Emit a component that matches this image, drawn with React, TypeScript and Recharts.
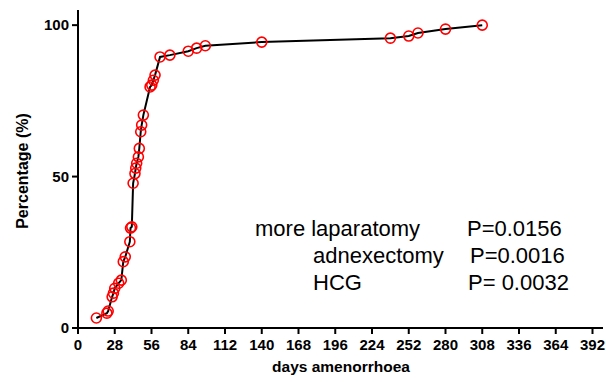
import React from "react";
import { LineChart, Line, XAxis, YAxis } from "recharts";

const days = [14, 22, 23, 26, 27, 28, 31, 33, 34.5, 36, 39.5, 40, 41, 42, 43.4, 44, 44.7, 46, 46.7, 47.8, 48.5, 49.8, 54.9, 56.2, 57.4, 58.7, 62.5, 70, 84, 90.4, 97, 140, 238, 252, 259, 280, 308];
const percentages = [3.3, 4.9, 5.6, 10.3, 11.5, 13.1, 14.8, 15.8, 21.9, 23.5, 28.5, 33.0, 33.4, 47.8, 51.0, 52.8, 54.4, 56.5, 59.3, 64.8, 67.0, 70.3, 79.6, 80.2, 81.8, 83.5, 89.5, 90.1, 91.4, 92.4, 93.2, 94.4, 95.7, 96.4, 97.4, 98.7, 100];
const xTicks = [0, 28, 56, 84, 112, 140, 168, 196, 224, 252, 280, 308, 336, 364, 392];
const yTicks = [0, 50, 100];
const annotationRows = [
  { label: "more laparatomy", p: "P=0.0156" },
  { label: "adnexectomy", p: "P=0.0016" },
  { label: "HCG", p: "P= 0.0032" },
];

const data = days.map((d, i) => ({ day: d, pct: percentages[i] }));

const font = "'Liberation Sans', Arial, sans-serif";

export default function App() {
  return (
    <div style={{ position: "absolute", left: 0, top: 0, width: 606, height: 382, background: "#fff", fontFamily: font }}>
      <LineChart width={606} height={382} data={data} margin={{ top: 10, right: 3, bottom: 0, left: 0 }}>
        <XAxis
          type="number"
          dataKey="day"
          domain={[0, 400]}
          ticks={xTicks}
          interval={0}
          height={54}
          tickSize={6}
          stroke="#000"
          axisLine={{ stroke: "#000", strokeWidth: 2 }}
          tickLine={{ stroke: "#000", strokeWidth: 2 }}
          tick={{ fill: "#000", fontSize: 15, fontWeight: 700, fontFamily: font }}
          tickMargin={5}
        />
        <YAxis
          type="number"
          domain={[0, 105]}
          ticks={yTicks}
          width={78}
          tickSize={6}
          stroke="#000"
          axisLine={{ stroke: "#000", strokeWidth: 2 }}
          tickLine={{ stroke: "#000", strokeWidth: 2 }}
          tick={{ fill: "#000", fontSize: 15, fontWeight: 700, fontFamily: font }}
          tickMargin={3}
        />
        <Line
          type="linear"
          dataKey="pct"
          stroke="#000"
          strokeWidth={2}
          dot={{ r: 5, stroke: "#ff0000", strokeWidth: 1.6, fill: "none" }}
          isAnimationActive={false}
        />
      </LineChart>
      <div style={{ position: "absolute", left: 241, top: 357, width: 200, textAlign: "center", fontWeight: 700, fontSize: 15.5, lineHeight: "20px" }}>
        days amenorrhoea
      </div>
      <div
        style={{
          position: "absolute",
          left: 23 - 90,
          top: 171 - 10,
          width: 180,
          textAlign: "center",
          fontWeight: 700,
          fontSize: 16,
          lineHeight: "20px",
          transform: "rotate(-90deg)",
        }}
      >
        Percentage (%)
      </div>
      {annotationRows.map((r, i) => (
        <React.Fragment key={r.label}>
          <div style={{ position: "absolute", left: i === 0 ? 255 : 313, top: 215 + i * 27, fontSize: 22, lineHeight: "27px", whiteSpace: "nowrap" }}>
            {r.label}
          </div>
          <div style={{ position: "absolute", left: i === 0 ? 467 : i === 1 ? 470 : 468, top: 215 + i * 27, fontSize: 22, lineHeight: "27px", whiteSpace: "nowrap" }}>
            {r.p}
          </div>
        </React.Fragment>
      ))}
    </div>
  );
}
